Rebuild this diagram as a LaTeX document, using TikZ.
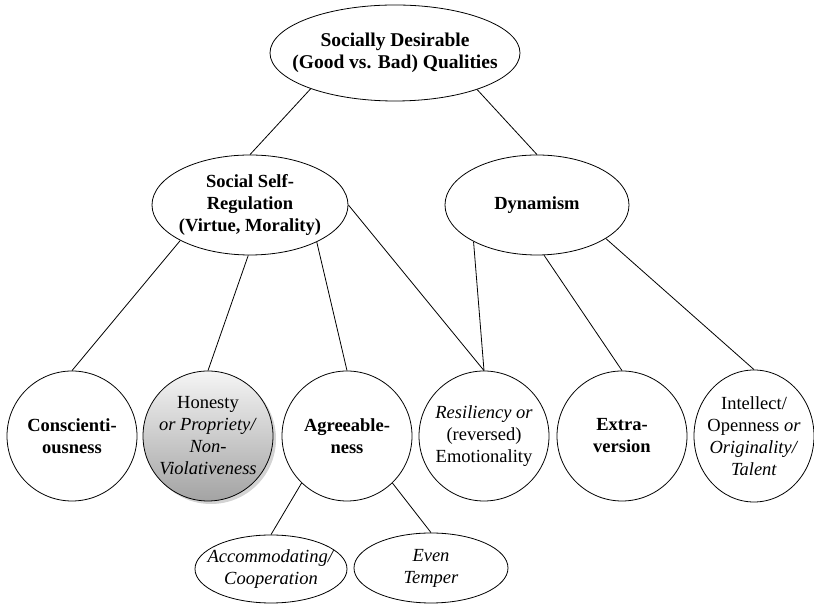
\documentclass[tikz,border=0pt]{standalone}
\usepackage{fontspec}
\setmainfont{Liberation Serif}
\usetikzlibrary{shapes.geometric,shadows}

\begin{document}
\begin{tikzpicture}[x=1pt, y=1pt, line width=0.8pt,
  every node/.style={font=\fontsize{18.5}{22}\selectfont},
  every label/.style={align=center},
  oval/.style={draw, ellipse, inner sep=0pt},
  circ/.style={draw, circle, inner sep=0pt, minimum size=130pt}]

\useasboundingbox (0,0) rectangle (814,604);

% Niveau supérieur
\node[oval, minimum width=250pt, minimum height=96pt,
  label={[font=\fontsize{19.5}{22.5}\selectfont]center:\textbf{Socially Desirable}\\\textbf{(Good vs. Bad) Qualities}}] (sdq) at (395,551) {};

% Deux grands facteurs
\node[oval, minimum width=196pt, minimum height=100pt,
  label={center:\textbf{Social Self-}\\\textbf{Regulation}\\\textbf{(Virtue, Morality)}}] (ssr) at (250,399) {};
\node[oval, minimum width=184pt, minimum height=100pt,
  label={center:\textbf{Dynamism}}] (dyn) at (537,399) {};

% Facteurs de base
\node[circ, label={center:\textbf{Conscienti-}\\\textbf{ousness}}] (consc) at (72,168) {};
\node[circ, top color=gray!8, bottom color=gray!72,
  drop shadow={opacity=0.35, shadow xshift=3pt, shadow yshift=-3pt},
  label={center:Honesty\\\textit{or Propriety/}\\\textit{Non-}\\\textit{Violativeness}}] (hon) at (208,168) {};
\node[circ, label={center:\textbf{Agreeable-}\\\textbf{ness}}] (agr) at (347,168) {};
\node[circ, label={center:\textit{Resiliency or}\\(reversed)\\Emotionality}] (res) at (484,168) {};
\node[circ, label={center:\textbf{Extra-}\\\textbf{version}}] (extra) at (622,168) {};
\node[oval, minimum width=120pt, minimum height=132pt,
  label={center:Intellect/\\Openness \textit{or}\\\textit{Originality/}\\\textit{Talent}}] (intel) at (754,168) {};

% Sous-facettes
\node[oval, minimum width=152pt, minimum height=68pt,
  label={center:\textit{Accommodating/}\\\textit{Cooperation}}] (accom) at (271,35) {};
\node[oval, minimum width=154pt, minimum height=70pt,
  label={center:\textit{Even}\\\textit{Temper}}] (even) at (431,36) {};

% Liens
\draw (sdq.203) -- (ssr.north);
\draw (sdq.336) -- (dyn.north);
\draw (ssr.207) -- (consc.north);
\draw (ssr.268) -- (hon.north);
\draw (ssr.331) -- (agr.north);
\draw (ssr.east) -- (res.north);
\draw (dyn.210) -- (res.north);
\draw (dyn.278) -- (extra.north);
\draw (dyn.334) -- (intel.north);
\draw (agr.226) -- (accom.north);
\draw (agr.314) -- (even.north);

\end{tikzpicture}
\end{document}
